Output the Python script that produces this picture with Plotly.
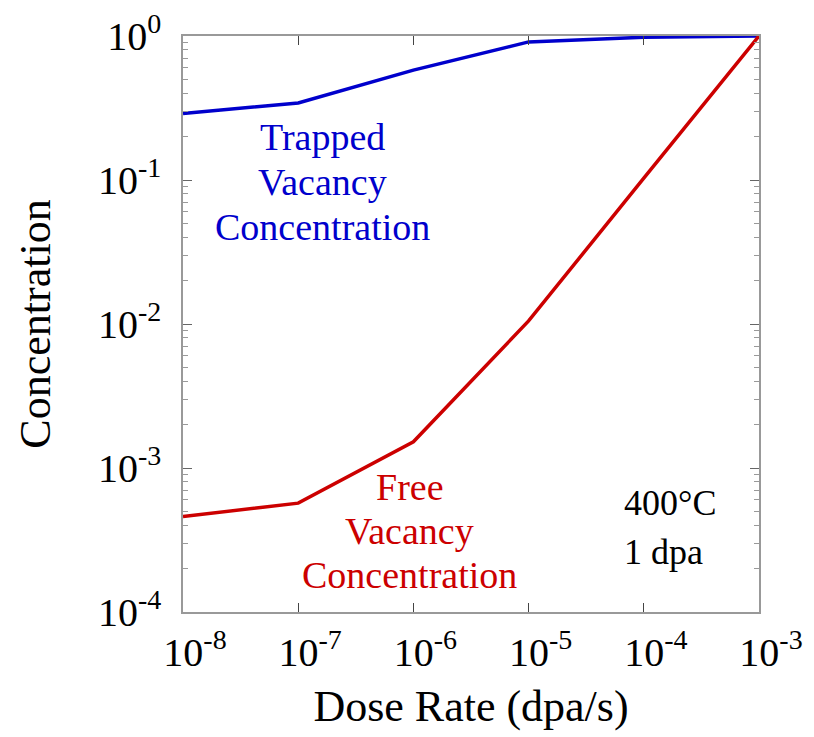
import plotly.graph_objects as go

dose_rate = [1e-8, 1e-7, 1e-6, 1e-5, 1e-4, 1e-3]
trapped = [0.29, 0.343, 0.58, 0.91, 0.98, 1.0]
free = [4.6e-4, 5.7e-4, 1.52e-3, 1.05e-2, 0.103, 1.0]

x_tickvals = [1e-8, 1e-7, 1e-6, 1e-5, 1e-4, 1e-3]
x_ticktext = ["10<sup>-8</sup>", "10<sup>-7</sup>", "10<sup>-6</sup>", "10<sup>-5</sup>", "10<sup>-4</sup>", "10<sup>-3</sup>"]
y_tickvals = [1e-4, 1e-3, 1e-2, 1e-1, 1]
y_ticktext = ["10<sup>-4</sup>", "10<sup>-3</sup>", "10<sup>-2</sup>", "10<sup>-1</sup>", "10<sup>0</sup>"]
y_minor = [m * 10.0 ** e for e in range(-4, 0) for m in range(2, 10)]

trapped_label = ["Trapped", "Vacancy", "Concentration"]
free_label = ["Free", "Vacancy", "Concentration"]
cond_label = ["400°C", "1 dpa"]

FONT = "Liberation Serif, Times New Roman, serif"
BLUE = "#0000CC"
RED = "#CC0000"

fig = go.Figure()
fig.add_trace(go.Scatter(x=dose_rate, y=trapped, mode="lines",
                         line=dict(color=BLUE, width=3.5), showlegend=False))
fig.add_trace(go.Scatter(x=dose_rate, y=free, mode="lines",
                         line=dict(color=RED, width=3.5), showlegend=False))

for txt, yy in zip(trapped_label, [-0.701, -1.014, -1.326]):
    fig.add_annotation(x=-6.785, y=yy, xref="x", yref="y", text=txt, showarrow=False,
                       font=dict(family=FONT, size=38, color=BLUE))
for txt, yy in zip(free_label, [-3.132, -3.438, -3.743]):
    fig.add_annotation(x=-6.03, y=yy, xref="x", yref="y", text=txt, showarrow=False,
                       font=dict(family=FONT, size=38, color=RED))
for txt, yy in zip(cond_label, [-3.243, -3.583]):
    fig.add_annotation(x=-4.189, y=yy, xref="x", yref="y", text=txt, showarrow=False,
                       xanchor="left", font=dict(family=FONT, size=36, color="black"))

fig.update_xaxes(type="log", range=[-8, -3], tickvals=x_tickvals, ticktext=x_ticktext,
                 ticks="inside", ticklen=9, tickcolor="#444", tickwidth=1,
                 showline=True, linecolor="#999", linewidth=1.5, mirror="ticks",
                 showgrid=False, zeroline=False, ticklabelshift=12, ticklabelstandoff=4,
                 automargin=False,
                 tickfont=dict(family=FONT, size=40, color="black"),
                 title=dict(text="Dose Rate (dpa/s)", font=dict(family=FONT, size=44, color="black"),
                            standoff=16))
fig.update_yaxes(type="log", range=[-4, 0], tickvals=y_tickvals, ticktext=y_ticktext,
                 ticks="inside", ticklen=9, tickcolor="#666", tickwidth=1,
                 showline=True, linecolor="#999", linewidth=1.5, mirror="ticks",
                 showgrid=False, zeroline=False, ticklabelstandoff=12, automargin=False,
                 minor=dict(tickvals=y_minor, ticks="inside", ticklen=5, tickcolor="#999",
                            tickwidth=1, showgrid=False),
                 tickfont=dict(family=FONT, size=40, color="black"),
                 title=dict(text="Concentration", font=dict(family=FONT, size=44, color="black"),
                            standoff=34))

fig.update_layout(width=814, height=737, margin=dict(l=183, r=55, t=36, b=125),
                  plot_bgcolor="white", paper_bgcolor="white")

fig.write_html("out.html")
